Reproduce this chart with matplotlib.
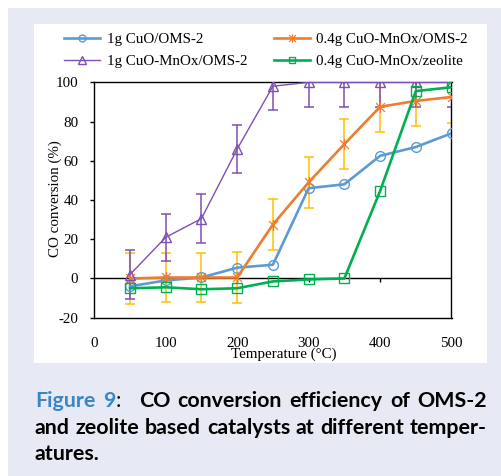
import matplotlib
matplotlib.use("Agg")
import matplotlib.pyplot as plt
import matplotlib.lines as mlines
from matplotlib.patches import Rectangle
from matplotlib.path import Path

# ---- data -------------------------------------------------------------
temperature = [50, 100, 150, 200, 250, 300, 350, 400, 450, 500]
cuo_oms2_1g = [-4, -1, 0.5, 5.5, 7, 46, 48, 62.5, 67, 74]
cuo_mnox_oms2_04g = [0, 0.5, 0.5, 0.5, 27.5, 49, 68.5, 87.5, 90.5, 92.5]
cuo_mnox_oms2_04g_err = [13, 12.5, 12.5, 13, 13, 13, 12.7, 13, 13, 13]
cuo_mnox_oms2_1g = [2, 21, 30.5, 66, 98, 100, 100, 100, 100, 100]
cuo_mnox_oms2_1g_err = [12.5, 12, 12.5, 12, 12, 12.5, 12.5, 12.5, 12.5, 12.5]
cuo_mnox_zeolite_04g = [-5, -4.5, -5.5, -5, -1.5, -0.5, 0, 44.5, 95.5, 97.5]

series_labels = ["1g CuO/OMS-2", "0.4g CuO-MnOx/OMS-2",
                 "1g CuO-MnOx/OMS-2", "0.4g CuO-MnOx/zeolite"]
x_ticks = [0, 100, 200, 300, 400, 500]
y_ticks = [-20, 0, 20, 40, 60, 80, 100]
x_label = "Temperature (\u00b0C)"
y_label = "CO conversion (%)"

# ---- style ------------------------------------------------------------
W, H = 502, 476
plt.rcParams["font.family"] = ["Liberation Serif", "DejaVu Serif"]
plt.rcParams["axes.unicode_minus"] = False
FS = 10.8

c_blue = "#5b9bd5"
c_orange = "#ed7d31"
c_yellow = "#ffc000"
c_purple = "#7f4fb5"
c_green = "#00b050"
c_back = "#e7eaf5"

fig = plt.figure(figsize=(W / 100, H / 100), dpi=100)


def px_rect(x0, y0, x1, y1, color):
    fig.patches.append(Rectangle((x0 / W, 1 - y1 / H), (x1 - x0) / W, (y1 - y0) / H,
                                 transform=fig.transFigure, facecolor=color,
                                 edgecolor="none", zorder=-10))


px_rect(8, 8, W, H, c_back)
px_rect(34, 24, 487, 363, "white")

ax_l, ax_r, ax_t, ax_b = 94.3, 451.5, 82.3, 317.7
ax = fig.add_axes([ax_l / W, 1 - ax_b / H, (ax_r - ax_l) / W, (ax_b - ax_t) / H])
ax.set_facecolor("none")

# asterisk marker: cross plus vertical stroke
star_path = Path([(-1, -1), (1, 1), (-1, 1), (1, -1), (0, -1.25), (0, 1.25)],
                 [Path.MOVETO, Path.LINETO, Path.MOVETO, Path.LINETO,
                  Path.MOVETO, Path.LINETO])

# error bars
ax.errorbar(temperature, cuo_mnox_oms2_04g, yerr=cuo_mnox_oms2_04g_err, fmt="none",
            ecolor=c_yellow, elinewidth=1.1, capsize=3.4, capthick=1.1, zorder=2)
ax.errorbar(temperature, cuo_mnox_oms2_1g, yerr=cuo_mnox_oms2_1g_err, fmt="none",
            ecolor=c_purple, elinewidth=1.1, capsize=3.4, capthick=1.1, zorder=2)

ax.axhline(0, color="black", lw=1.0, zorder=1)

ax.plot(temperature, cuo_oms2_1g, color=c_blue, lw=1.9, marker="o", ms=7,
        mfc="none", mec=c_blue, mew=1.0, zorder=3)
ax.plot(temperature, cuo_mnox_oms2_04g, color=c_orange, lw=1.9, marker=star_path,
        ms=8, mec=c_orange, mew=0.9, zorder=3)
ax.plot(temperature, cuo_mnox_oms2_1g, color=c_purple, lw=1.0, marker="^", ms=7.5,
        mfc="none", mec=c_purple, mew=1.0, zorder=4)
ax.plot(temperature, cuo_mnox_zeolite_04g, color=c_green, lw=1.9, marker="s", ms=7,
        mfc="none", mec=c_green, mew=1.0, zorder=5)

ax.set_xlim(x_ticks[0], x_ticks[-1])
ax.set_ylim(y_ticks[0], y_ticks[-1])
ax.set_xticks(x_ticks)
ax.set_yticks(y_ticks)
ax.set_xticklabels([str(v) for v in x_ticks])
ax.set_yticklabels([str(v) for v in y_ticks])
ax.tick_params(axis="x", length=0, pad=14, labelsize=FS)
ax.tick_params(axis="y", direction="out", length=3, width=1, pad=8.5, labelsize=FS)
for s in ax.spines.values():
    s.set_linewidth(1.0)
    s.set_color("black")

# tick marks along the zero line
zero_frac = (0 - y_ticks[0]) / (y_ticks[-1] - y_ticks[0])
sec = ax.secondary_xaxis(zero_frac)
sec.set_xticks(x_ticks[1:-1])
sec.tick_params(direction="out", length=3, width=1, labelbottom=False)
sec.spines["bottom"].set_visible(False)

ax.set_xlabel(x_label, fontsize=FS, va="center")
ax.xaxis.set_label_coords((284 - ax_l) / (ax_r - ax_l), -(354 - ax_b) / (ax_b - ax_t))
ax.set_ylabel(y_label, fontsize=FS, va="center")
ax.yaxis.set_label_coords((55 - ax_l) / (ax_r - ax_l), (ax_b - 199) / (ax_b - ax_t))

# legend: same line styles with smaller markers
h1 = mlines.Line2D([], [], color=c_blue, lw=1.9, marker="o", ms=5, mfc="none", mec=c_blue)
h2 = mlines.Line2D([], [], color=c_orange, lw=1.9, marker=star_path, ms=6, mec=c_orange, mew=0.9)
h3 = mlines.Line2D([], [], color=c_purple, lw=1.0, marker="^", ms=5.5, mfc="none", mec=c_purple)
h4 = mlines.Line2D([], [], color=c_green, lw=1.9, marker="s", ms=5, mfc="none", mec=c_green)
fig.legend([h1, h3, h2, h4], [series_labels[0], series_labels[2], series_labels[1], series_labels[3]],
           ncol=2, loc="upper left", bbox_to_anchor=(64 / W, 1 - 33 / H),
           frameon=False, fontsize=FS, handlelength=2.4, handletextpad=0.45,
           columnspacing=1.75, labelspacing=0.55, borderpad=0, borderaxespad=0)

# ---- caption (justified) ---------------------------------------------
cap_blue = "#3b87c6"
cap_x0, cap_x1 = 35, 487
cap_family = ["Lato", "DejaVu Sans"]
renderer = fig.canvas.get_renderer()


def seg_width(txt, weight, size):
    t = fig.text(0, 0, txt, fontweight=weight, family=cap_family, fontsize=size)
    w = t.get_window_extent(renderer).width
    t.remove()
    return w


# pick the size at which the second line fills the column with plain spaces
line2_text = "and zeolite based catalysts at different temper-"
cap_size = 12.0 * (cap_x1 - cap_x0) / seg_width(line2_text, "bold", 12.0) * 0.985

lines = [
    [[("Figure", cap_blue, "bold")], [("9", cap_blue, "bold"), (":", "black", "normal"), ("\u2002", "black", "normal")],
     [("CO", "black", "bold")], [("conversion", "black", "bold")],
     [("efficiency", "black", "bold")], [("of", "black", "bold")], [("OMS-2", "black", "bold")]],
    [[(w, "black", "bold")] for w in line2_text.split()],
    [[(w, "black", "bold")] for w in "atures.".split()],
]
baselines = [407, 433.5, 459.5]

space_w = seg_width("a b", "bold", cap_size) - seg_width("ab", "bold", cap_size)
for li, (tokens, yb) in enumerate(zip(lines, baselines)):
    widths = [[seg_width(s, wt, cap_size) for s, c, wt in tok] for tok in tokens]
    tot = sum(sum(w) for w in widths)
    if li < 2 and len(tokens) > 1:
        gap = (cap_x1 - cap_x0 - tot) / (len(tokens) - 1)
    else:
        gap = space_w
    x = cap_x0
    for tok, ws in zip(tokens, widths):
        for (s, c, wt), w in zip(tok, ws):
            fig.text(x / W, 1 - yb / H, s, color=c, fontweight=wt, va="baseline", ha="left",
                     family=cap_family, fontsize=cap_size)
            x += w
        x += gap

fig.savefig("out.png", dpi=100)
